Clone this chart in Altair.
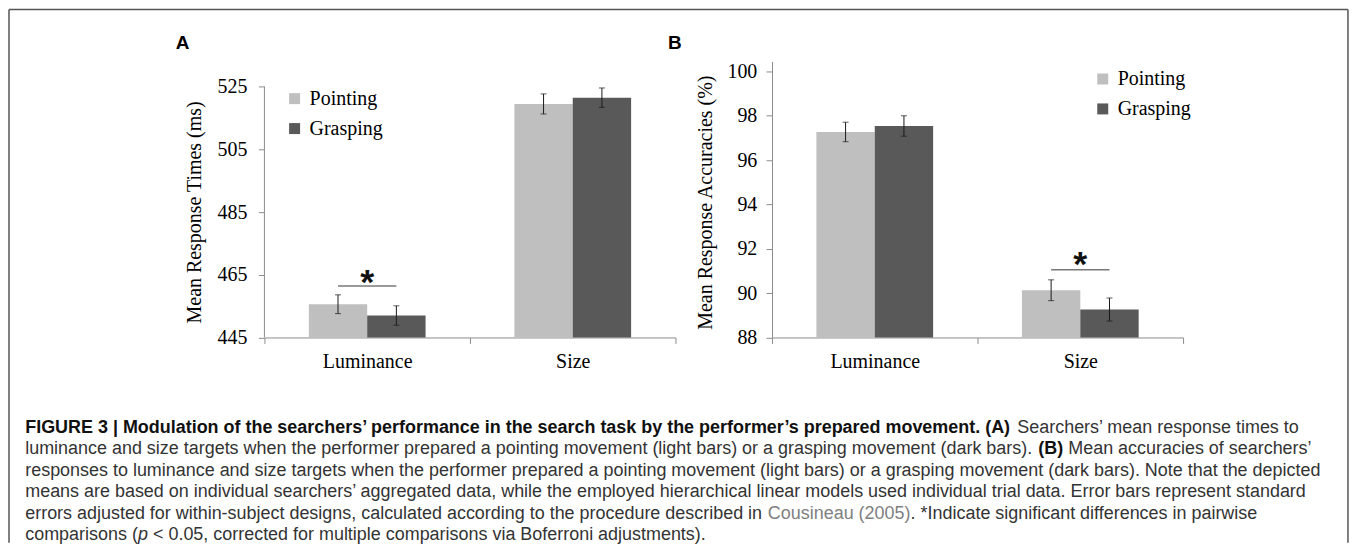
import altair as alt
import pandas as pd

# ---------------- data ----------------
categories = ["Luminance", "Size"]
series = ["Pointing", "Grasping"]
# order: Luminance-Pointing, Luminance-Grasping, Size-Pointing, Size-Grasping
rt_mean = [455.6, 452.0, 519.5, 521.5]
rt_err = [3.0, 3.1, 3.2, 3.1]
acc_mean = [97.27, 97.54, 90.13, 89.26]
acc_err = [0.44, 0.46, 0.47, 0.52]
rt_ticks = [445, 465, 485, 505, 525]
acc_ticks = [88, 90, 92, 94, 96, 98, 100]
rt_sig = ["Luminance", 461.4, 465.4]     # category, line value, star value
acc_sig = ["Size", 91.06, 91.71]

LIGHT, DARK = "#bfbfbf", "#595959"
AXIS = "#8c8c8c"
SERIF = "Liberation Serif"
SANS = "Liberation Sans"

W, H = 412, 276.6
ORIGIN_X, ORIGIN_Y = 264.75, 60.75   # page position of panel A's plot area


def panel_layers(means, errs, domain, ticks, title, title_x, title_y, label_pad,
                 show_domain, sig, legend_x, legend_y, letter, letter_x, axis_rule):
    df = pd.DataFrame({
        "category": [c for c in categories for _ in series],
        "series": [s for _ in categories for s in series],
        "mean": means,
        "err": errs,
    })
    df["lo"] = df["mean"] - df["err"]
    df["hi"] = df["mean"] + df["err"]

    xscale = alt.Scale(domain=categories, paddingInner=0, paddingOuter=0)
    xaxis = alt.Axis(title=None, labelAngle=0, labelFont=SERIF, labelFontSize=20,
                     labelColor="black", labelPadding=8.5, tickBand="extent",
                     tickSize=6, tickColor=AXIS, domainColor=AXIS, grid=False)
    xo = alt.XOffset("series:N", sort=series,
                     scale=alt.Scale(domain=series, paddingInner=0, paddingOuter=0.7607))
    yscale = alt.Scale(domain=domain, nice=False, zero=False)
    yaxis = alt.Axis(values=ticks, title=title, titleFont=SERIF, titleFontSize=20,
                     titleFontWeight="normal", titleColor="black", titleX=title_x, titleY=title_y,
                     titleBaseline="alphabetic", labelFont=SERIF, labelFontSize=20,
                     labelColor="black", labelPadding=label_pad, tickSize=6, tickColor=AXIS,
                     domain=show_domain, domainColor=AXIS, grid=False)

    def X():
        return alt.X("category:N", sort=categories, scale=xscale, axis=xaxis)

    def Y(field):
        return alt.Y(field, scale=yscale, axis=yaxis)

    base = alt.Chart(df)
    bars = base.mark_bar().encode(
        x=X(), xOffset=xo,
        y=Y("mean:Q"), y2=alt.datum(domain[0]),
        color=alt.Color("series:N", sort=series,
                        scale=alt.Scale(domain=series, range=[LIGHT, DARK]),
                        legend=alt.Legend(title=None, orient="none", legendX=legend_x,
                                          legendY=legend_y, symbolType="square", symbolSize=121,
                                          symbolStrokeWidth=0, labelFont=SERIF, labelFontSize=20,
                                          labelColor="black", rowPadding=10, labelOffset=5,
                                          padding=0)),
    )
    err_rule = base.mark_rule(color="#1a1a1a", strokeWidth=1).encode(
        x=X(), xOffset=xo, y=Y("lo:Q"), y2="hi:Q")
    cap_lo = base.mark_tick(orient="horizontal", size=6, thickness=1, color="#1a1a1a").encode(
        x=X(), xOffset=xo, y=Y("lo:Q"))
    cap_hi = base.mark_tick(orient="horizontal", size=6, thickness=1, color="#1a1a1a").encode(
        x=X(), xOffset=xo, y=Y("hi:Q"))

    sig_df = pd.DataFrame({"category": [sig[0]], "line": [sig[1]], "star": [sig[2]]})
    sig_line = alt.Chart(sig_df).mark_tick(orient="horizontal", size=58.5, thickness=1.5,
                                           color="#404040").encode(x=X(), y=Y("line:Q"))
    sig_star = alt.Chart(sig_df).mark_text(text="*", font=SANS, fontSize=36, fontWeight="bold",
                                           baseline="alphabetic", dy=21, color="#111111").encode(
        x=X(), y=Y("star:Q"))

    letter_df = pd.DataFrame({"t": [letter]})
    letter_mark = alt.Chart(letter_df).mark_text(font=SANS, fontSize=19, fontWeight="bold",
                                                 align="left", baseline="alphabetic",
                                                 color="black").encode(
        text="t:N", x=alt.value(letter_x), y=alt.value(-12.6))

    layers = [bars, err_rule, cap_lo, cap_hi, sig_line, sig_star, letter_mark]
    if axis_rule is not None:
        rule_df = pd.DataFrame({"lo": [axis_rule[0]], "hi": [axis_rule[1]]})
        layers.append(alt.Chart(rule_df).mark_rule(color=AXIS, strokeWidth=1).encode(
            x=alt.value(0), y=Y("lo:Q"), y2="hi:Q"))
    return layers


# ---------------- caption (drawn in panel A's coordinates) ----------------
REG = {" ": 278, "'": 191, "\u2019": 222, "(": 333, ")": 333, "*": 389, ",": 278, "-": 333,
       ".": 278, "<": 584, "A": 667, "B": 667, "C": 722, "E": 667, "I": 278, "N": 722, "S": 667,
       "a": 556, "b": 556, "c": 500, "d": 556, "e": 556, "f": 278, "g": 556, "h": 556, "i": 222,
       "j": 222, "k": 500, "l": 222, "m": 833, "n": 556, "o": 556, "p": 556, "q": 556, "r": 333,
       "s": 500, "t": 278, "u": 556, "v": 500, "w": 722, "x": 500, "y": 500, "z": 500}
BOLD = {" ": 278, "\u2019": 278, "(": 333, ")": 333, "|": 280, ".": 278, "3": 556, "A": 722,
        "B": 722, "E": 667, "F": 611, "G": 778, "I": 278, "M": 833, "R": 722, "U": 722, "a": 556,
        "b": 611, "c": 556, "d": 611, "e": 556, "f": 333, "h": 611, "i": 278, "k": 556, "l": 278,
        "m": 889, "n": 611, "o": 611, "p": 611, "r": 389, "s": 556, "t": 333, "u": 611, "v": 556,
        "y": 556}
FS = 18


def tw(s, table):
    return sum(table.get(ch, 556) for ch in s) * FS / 1000.0


SP = tw(" ", REG)
X0 = 25 - ORIGIN_X
baselines = [b - ORIGIN_Y for b in [433, 454.5, 476, 497.5, 519, 540.5]]

l1_bold = ("FIGURE 3 | Modulation of the searchers\u2019 performance in the search task by the "
           "performer\u2019s prepared movement. (A)")
l1_reg = "Searchers\u2019 mean response times to"
l2_reg = ("luminance and size targets when the performer prepared a pointing movement "
          "(light bars) or a grasping movement (dark bars).")
l2_bold = "(B)"
l2_reg2 = "Mean accuracies of searchers\u2019"
l3 = ("responses to luminance and size targets when the performer prepared a pointing movement "
      "(light bars) or a grasping movement (dark bars). Note that the depicted")
l4 = ("means are based on individual searchers\u2019 aggregated data, while the employed "
      "hierarchical linear models used individual trial data. Error bars represent standard")
l5a = "errors adjusted for within-subject designs, calculated according to the procedure described in"
l5b = "Cousineau (2005)"
l5c = ". *Indicate significant differences in pairwise"
l6a = "comparisons ("
l6b = "p"
l6c = "< 0.05, corrected for multiple comparisons via Boferroni adjustments)."

BOLD_C, REG_C, LINK_C = "#111111", "#333333", "#808080"
segments = []
segments.append((l1_bold, X0, baselines[0], "bold", "normal", BOLD_C))
segments.append((l1_reg, X0 + tw(l1_bold, BOLD) + SP, baselines[0], "normal", "normal", REG_C))
x2 = X0 + tw(l2_reg, REG) + SP
segments.append((l2_reg, X0, baselines[1], "normal", "normal", REG_C))
segments.append((l2_bold, x2, baselines[1], "bold", "normal", BOLD_C))
segments.append((l2_reg2, x2 + tw(l2_bold, BOLD) + SP, baselines[1], "normal", "normal", REG_C))
segments.append((l3, X0, baselines[2], "normal", "normal", REG_C))
segments.append((l4, X0, baselines[3], "normal", "normal", REG_C))
x5b = X0 + tw(l5a, REG) + SP
segments.append((l5a, X0, baselines[4], "normal", "normal", REG_C))
segments.append((l5b, x5b, baselines[4], "normal", "normal", LINK_C))
segments.append((l5c, x5b + tw(l5b, REG), baselines[4], "normal", "normal", REG_C))
x6b = X0 + tw(l6a, REG)
segments.append((l6a, X0, baselines[5], "normal", "normal", REG_C))
segments.append((l6b, x6b, baselines[5], "normal", "italic", REG_C))
segments.append((l6c, x6b + tw(l6b, REG) + SP, baselines[5], "normal", "normal", REG_C))

one = pd.DataFrame({"v": [0]})
cap_layers = []
for text, sx, sy, weight, style, col in segments:
    cap_layers.append(alt.Chart(one).mark_text(
        text=text, font=SANS, fontSize=FS, fontWeight=weight, fontStyle=style, color=col,
        align="left", baseline="alphabetic").encode(x=alt.value(sx), y=alt.value(sy)))

FL, FR = 8.75 - ORIGIN_X, 1350.7 - ORIGIN_X
FT, FB = 8.75 - ORIGIN_Y, 543 - ORIGIN_Y
FRAME_C = "#555555"
cap_layers.append(alt.Chart(one).mark_rule(color=FRAME_C, strokeWidth=1.5).encode(
    x=alt.value(FL), y=alt.value(FT), y2=alt.value(FB)))
cap_layers.append(alt.Chart(one).mark_rule(color=FRAME_C, strokeWidth=1.5).encode(
    x=alt.value(FR), y=alt.value(FT), y2=alt.value(FB)))
cap_layers.append(alt.Chart(one).mark_rule(color=FRAME_C, strokeWidth=1.5).encode(
    x=alt.value(FL), x2=alt.value(FR), y=alt.value(FT)))

layers_a = panel_layers(rt_mean, rt_err, [445, 533.05], rt_ticks, "Mean Response Times (ms)",
                        -64, 150.75, 11.5, False, rt_sig, 20.25, 27.25, "A", -88.75, (445, 525))
layers_b = panel_layers(acc_mean, acc_err, [88, 100.45], acc_ticks,
                        "Mean Response Accuracies (%)", -61, 141, 9.2, True, acc_sig, 321.5,
                        7.55, "B", -104.15, None)

panel_a = alt.layer(*(layers_a + cap_layers)).properties(width=W, height=H)
panel_b = alt.layer(*layers_b).properties(width=W, height=H)

chart = alt.hconcat(panel_a, panel_b, spacing=96.7, bounds="flush").resolve_scale(
    x="independent", y="independent", color="independent").properties(
    padding=0).configure_view(stroke=None)

chart.save("out.html", embed_options={"renderer": "svg", "actions": False})
